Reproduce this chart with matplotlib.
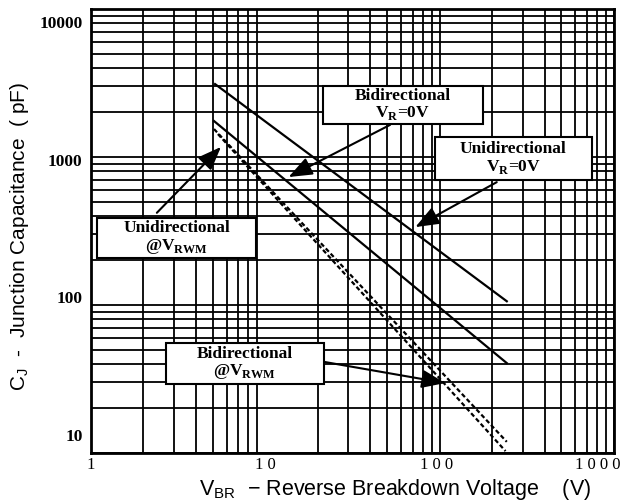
import numpy as np
import matplotlib.pyplot as plt
from matplotlib.patches import Rectangle
from matplotlib.ticker import FixedLocator, FixedFormatter, LogLocator, NullFormatter

plt.rcParams['mathtext.fontset'] = 'custom'
plt.rcParams['mathtext.rm'] = 'Liberation Serif:bold'
plt.rcParams['mathtext.sf'] = 'Liberation Sans'

# curves (V_BR in volts, C_J in pF)
vbr_uni0 = [5.15, 243]
cj_uni0 = [3110, 106]
vbr_bi0 = [5.08, 243]
cj_bi0 = [1750, 40.5]
vbr_uni_rwm = [5.08, 243]
cj_uni_rwm = [1545, 11.9]
vbr_bi_rwm = [5.35, 239]
cj_bi_rwm = [1429, 10.3]

# arrow tips (data) for each label
tip_bi0 = (13.6, 732)
tip_uni0 = (72.6, 336)
tip_uni_rwm = (5.57, 1170)
tip_bi_rwm = (107.7, 29.7)

# tick labels sit a bit off the grid lines in the original
xtick_vals = [1, 10, 96, 810]
xtick_text = ['1', '1 0', '1 0 0', '1 0 0 0']
ytick_vals = [8170, 955, 113, 13.2]
ytick_text = ['10000', '1000', '100', '10']

fig = plt.figure(figsize=(6.3, 5.03), dpi=100)
ax = fig.add_axes([0.1444, 0.0994, 0.830, 0.8827])
ax.set_xscale('log')
ax.set_yscale('log')
ax.set_xlim(1, 1000)
ax.set_ylim(10, 10000)

ax.xaxis.set_major_locator(FixedLocator(xtick_vals))
ax.xaxis.set_major_formatter(FixedFormatter(xtick_text))
ax.xaxis.set_minor_locator(LogLocator(base=10, subs=np.arange(1, 10), numticks=20))
ax.xaxis.set_minor_formatter(NullFormatter())
ax.yaxis.set_major_locator(FixedLocator(ytick_vals))
ax.yaxis.set_major_formatter(FixedFormatter(ytick_text))
ax.yaxis.set_minor_locator(LogLocator(base=10, subs=np.arange(1, 10), numticks=20))
ax.yaxis.set_minor_formatter(NullFormatter())

ax.grid(which='minor', axis='both', color='black', lw=1.3)
ax.tick_params(which='both', length=0)
ax.tick_params(axis='x', pad=3)
ax.tick_params(axis='y', pad=6)
for lab in ax.get_xticklabels():
    lab.set_family('Liberation Serif')
    lab.set_fontsize(12)
for lab in ax.get_yticklabels():
    lab.set_family('Liberation Serif')
    lab.set_fontsize(12.5)
    lab.set_fontweight('bold')
for sp in ax.spines.values():
    sp.set_linewidth(2)

ax.plot(vbr_uni0, cj_uni0, color='black', lw=1.6, zorder=3)
ax.plot(vbr_bi0, cj_bi0, color='black', lw=1.6, zorder=3)
ax.plot(vbr_uni_rwm, cj_uni_rwm, color='black', lw=1.6, ls=(0, (2, 1.2)), zorder=3)
ax.plot(vbr_bi_rwm, cj_bi_rwm, color='black', lw=1.6, ls=(0, (2, 1.2)), zorder=3)

# label boxes in axes fraction: (x0, y0, x1, y1), arrow tail, text lines
labels = [
    ((0.4436, 0.741, 0.7495, 0.8266), (0.572, 0.739), tip_bi0,
     'Bidirectional\nV$_\\mathrm{R}$=0V'),
    ((0.6577, 0.6149, 0.958, 0.7117), (0.776, 0.610), tip_uni0,
     'Unidirectional\nV$_\\mathrm{R}$=0V'),
    ((0.0115, 0.4392, 0.3155, 0.5293), (0.126, 0.541), tip_uni_rwm,
     'Unidirectional\n@V$_\\mathrm{RWM}$'),
    ((0.1434, 0.1554, 0.4455, 0.2477), (0.447, 0.205), tip_bi_rwm,
     'Bidirectional\n@V$_\\mathrm{RWM}$'),
]
for (x0, y0, x1, y1), tail, tip, txt in labels:
    ax.add_patch(Rectangle((x0, y0), x1 - x0, y1 - y0, transform=ax.transAxes,
                           facecolor='white', edgecolor='black', lw=1.5, zorder=5))
    ax.text((x0 + x1) / 2, (y0 + y1) / 2, txt, transform=ax.transAxes,
            ha='center', va='center', family='Liberation Serif', fontweight='bold',
            fontsize=12.5, linespacing=1.05, zorder=6)
    ax.annotate('', xy=tip, xycoords='data', xytext=tail, textcoords='axes fraction',
                arrowprops=dict(arrowstyle='-|>,head_length=0.9,head_width=0.35',
                                color='black', lw=1.5, mutation_scale=16,
                                shrinkA=0, shrinkB=0), zorder=4)

fig.text(20 / 630, 1 - 236 / 503, 'C$_\\mathsf{J}$  -  Junction Capacitance  ( pF)',
         rotation=90, ha='center', va='center', family='Liberation Sans', fontsize=15)
fig.text(395 / 630, 1 - 489 / 503,
         'V$_\\mathsf{BR}$  \u2212 Reverse Breakdown Voltage    (V)',
         ha='center', va='center', family='Liberation Sans', fontsize=15.5)

fig.savefig('out.png', dpi=100, facecolor='white')
